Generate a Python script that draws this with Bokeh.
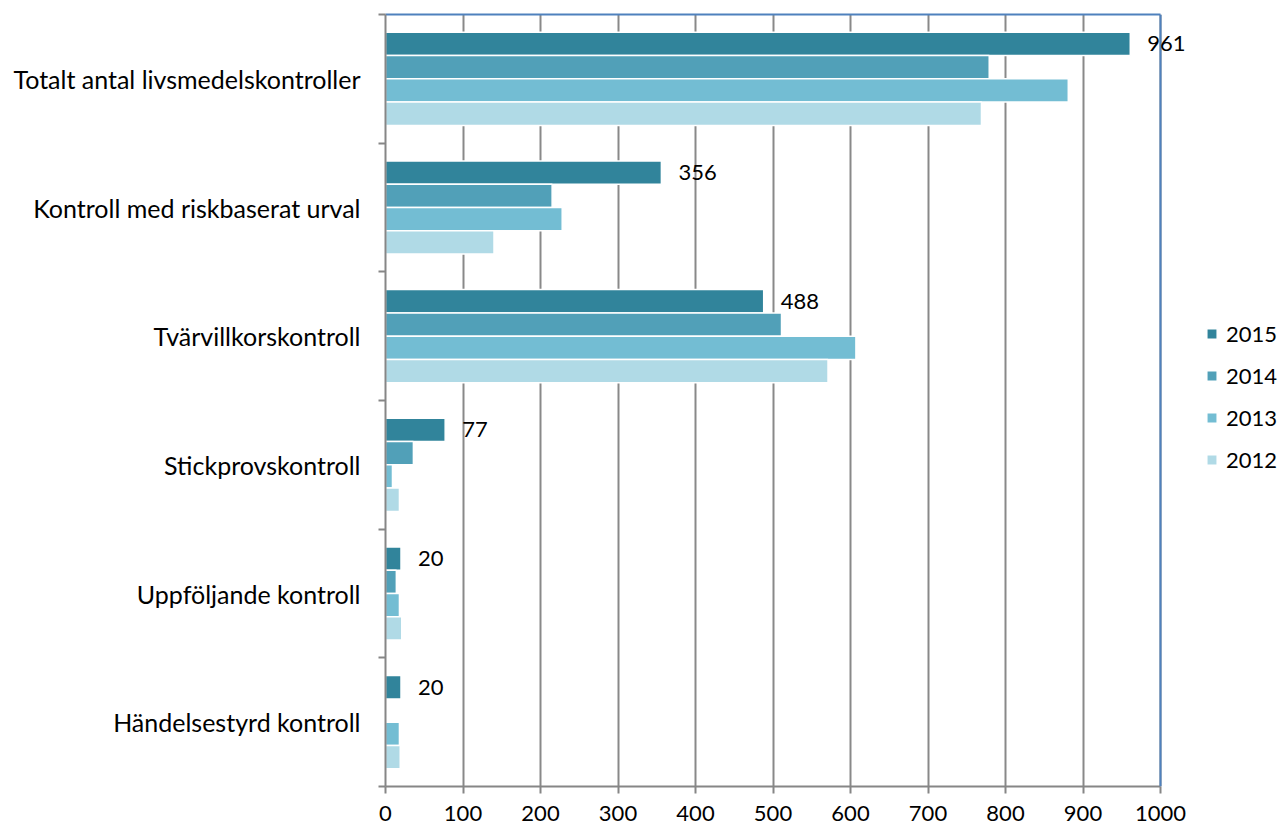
from bokeh.plotting import figure
from bokeh.models import (Range1d, FixedTicker, Legend, LegendItem, ColumnDataSource,
                          LabelSet, LinearAxis, Span)
from bokeh.embed import file_html
from bokeh.resources import INLINE
from bokeh.core.properties import value

categories = ["Totalt antal livsmedelskontroller", "Kontroll med riskbaserat urval",
              "Tvärvillkorskontroll", "Stickprovskontroll", "Uppföljande kontroll",
              "Händelsestyrd kontroll"]
years = ["2015", "2014", "2013", "2012"]
v2015 = [961, 356, 488, 77, 20, 20]
v2014 = [779, 215, 511, 36, 14, 0]
v2013 = [881, 228, 607, 9, 18, 18]
v2012 = [769, 140, 571, 18, 21, 19]
series = [v2015, v2014, v2013, v2012]
colors = ["#31849B", "#51A0B8", "#73BDD3", "#B0DAE6"]
x_ticks = list(range(0, 1001, 100))
x_max = 1000

FONT = "Lato"
GRAY = "#868686"
BLUE = "#4F81BD"
n = len(categories)
centers = [n - 0.5 - i for i in range(n)]
bar_h = 0.181
offsets = [1.5 * bar_h, 0.5 * bar_h, -0.5 * bar_h, -1.5 * bar_h]

# frame extends past the value axis end so labels/legend on the right are not clipped
p = figure(width=1284, height=831, output_backend="svg", toolbar_location=None,
           x_range=Range1d(0, 1160), y_range=Range1d(0, n),
           min_border_left=385, min_border_right=0, min_border_top=14, min_border_bottom=45)
p.outline_line_color = None
p.background_fill_color = "white"
p.border_fill_color = "white"

p.xgrid.ticker = FixedTicker(ticks=x_ticks)
p.xgrid.grid_line_color = "#898989"
p.xgrid.grid_line_width = 2
p.ygrid.grid_line_color = None

renderers = []
for vals, off, col, yr in zip(series, offsets, colors, years):
    src = ColumnDataSource(dict(y=[c + off for c in centers], x=vals))
    r = p.hbar(y="y", right="x", left=0, height=bar_h, source=src,
               fill_color=col, line_color="white", line_width=1.5)
    renderers.append((yr, r))

# right border of plot area
p.add_layout(Span(location=x_max, dimension="height", line_color=BLUE, line_width=2))

# data labels for 2015
lab_src = ColumnDataSource(dict(x=v2015, y=[c + offsets[0] for c in centers],
                                t=[str(v) for v in v2015]))
p.add_layout(LabelSet(x="x", y="y", text="t", source=lab_src, x_offset=17,
                      text_baseline="middle", text_align="left", text_font=value(FONT),
                      text_font_size="22px", text_color="black"))

# bottom axis
p.xaxis.bounds = (0, x_max)
p.xaxis.ticker = FixedTicker(ticks=x_ticks)
p.xaxis.major_label_text_font = FONT
p.xaxis.major_label_text_font_size = "22px"
p.xaxis.major_label_text_color = "black"
p.xaxis.axis_line_color = GRAY
p.xaxis.axis_line_width = 2
p.xaxis.major_tick_line_color = GRAY
p.xaxis.major_tick_line_width = 2
p.xaxis.major_tick_in = 0
p.xaxis.major_tick_out = 7
p.xaxis.minor_tick_line_color = None
p.xaxis.major_label_standoff = 12

# top border as a bare axis line
top = LinearAxis(bounds=(0, x_max), ticker=FixedTicker(ticks=[]),
                 axis_line_color=BLUE, axis_line_width=2,
                 major_tick_line_color=None, minor_tick_line_color=None,
                 major_tick_out=0, minor_tick_out=0, major_label_standoff=0,
                 major_label_text_font_size="0px")
p.add_layout(top, "above")

# left axis
p.yaxis.ticker = FixedTicker(ticks=centers, minor_ticks=list(range(0, n + 1)))
p.yaxis.major_label_overrides = {c: cat for c, cat in zip(centers, categories)}
p.yaxis.major_label_text_font = FONT
p.yaxis.major_label_text_font_size = "25px"
p.yaxis.major_label_text_color = "black"
p.yaxis.axis_line_color = GRAY
p.yaxis.axis_line_width = 2
p.yaxis.major_tick_line_color = None
p.yaxis.major_tick_in = 0
p.yaxis.major_tick_out = 0
p.yaxis.minor_tick_line_color = GRAY
p.yaxis.minor_tick_line_width = 2
p.yaxis.minor_tick_in = 0
p.yaxis.minor_tick_out = 7
p.yaxis.major_label_standoff = 18

legend = Legend(items=[LegendItem(label=yr, renderers=[r]) for yr, r in renderers],
                location=(820, 313), orientation="vertical",
                glyph_width=13, glyph_height=13, label_height=24, spacing=15,
                label_standoff=8, padding=0, margin=0,
                label_text_font=FONT, label_text_font_size="22px", label_text_color="black",
                border_line_color=None, background_fill_alpha=0)
p.add_layout(legend, "center")

open("out.html", "w").write(file_html(p, INLINE))
